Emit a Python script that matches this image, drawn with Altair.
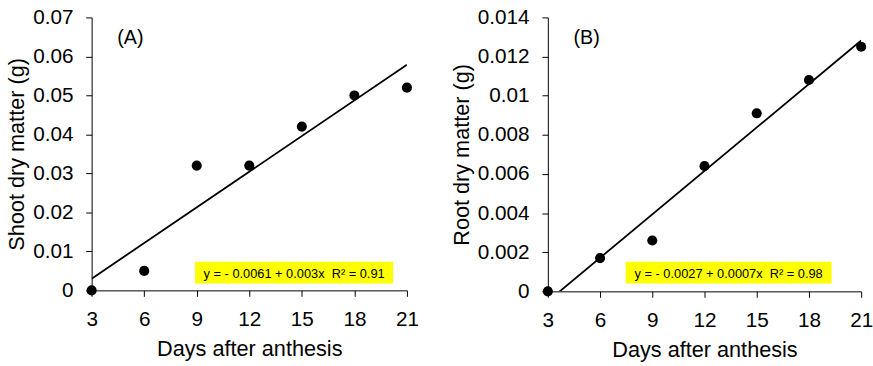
import altair as alt
import pandas as pd

days = [3, 6, 9, 12, 15, 18, 21]
shoot_dm = [0.0, 0.005, 0.032, 0.032, 0.042, 0.050, 0.052]
root_dm = [0.0, 0.0017, 0.0026, 0.0064, 0.0091, 0.0108, 0.0125]

x_ticks = [3, 6, 9, 12, 15, 18, 21]
shoot_ticks = [0, 0.01, 0.02, 0.03, 0.04, 0.05, 0.06, 0.07]
root_ticks = [0, 0.002, 0.004, 0.006, 0.008, 0.01, 0.012, 0.014]

eq_a = "y = - 0.0061 + 0.003x\u00a0\u00a0R² = 0.91"
eq_b = "y = - 0.0027 + 0.0007x\u00a0\u00a0R² = 0.98"
label_a = "(A)"
label_b = "(B)"
x_title = "Days after anthesis"
y_title_a = "Shoot dry matter (g)"
y_title_b = "Root dry matter (g)"

FONT = "Liberation Sans"


def panel(values, yticks, ymax, fmt, ytitle, eq, label, w, h, box):
    df = pd.DataFrame({"day": days, "value": values})
    base = alt.Chart(df)
    xenc = alt.X("day:Q", scale=alt.Scale(domain=[3, 21], nice=False, zero=False),
                 axis=alt.Axis(values=x_ticks, title=x_title, format="d"))
    yenc = alt.Y("value:Q", scale=alt.Scale(domain=[0, ymax], nice=False),
                 axis=alt.Axis(values=yticks, title=ytitle, format=fmt))
    pts = base.mark_circle(size=105, color="black", opacity=1).encode(x=xenc, y=yenc)
    line = base.transform_regression("day", "value", extent=[3, 21]).mark_line(
        color="black", strokeWidth=1.8, clip=True).encode(x=xenc, y=yenc)
    bx0, bx1, by0, by1 = box
    rect = alt.Chart(pd.DataFrame({"t": [eq]})).mark_rect(color="#ffff00").encode(
        x=alt.value(bx0), x2=alt.value(bx1), y=alt.value(by0), y2=alt.value(by1))
    txt = alt.Chart(pd.DataFrame({"t": [eq]})).mark_text(
        font=FONT, fontSize=13, color="black", align="center", baseline="middle").encode(
        x=alt.value((bx0 + bx1) / 2), y=alt.value((by0 + by1) / 2 + 1), text="t:N")
    lab = alt.Chart(pd.DataFrame({"t": [label]})).mark_text(
        font=FONT, fontSize=20, color="black", align="left", baseline="middle").encode(
        x=alt.value(26), y=alt.value(21), text="t:N")
    return alt.layer(pts, line, rect, txt, lab).properties(width=w, height=h)


a = panel(shoot_dm, shoot_ticks, 0.07, ".2~f", y_title_a, eq_a, label_a, 320, 277,
          (105, 306, 248, 270))
b = panel(root_dm, root_ticks, 0.014, ".3~f", y_title_b, eq_b, label_b, 318, 278,
          (79, 288, 248, 270))

chart = alt.hconcat(a, b, spacing=32).properties(
    padding={"left": 6, "top": 4, "right": 0, "bottom": 0}
).configure_view(stroke=None).configure_axis(
    grid=False, domainColor="black", tickColor="black", domainWidth=1, tickWidth=1,
    tickSize=6, labelColor="black", titleColor="black", labelFont=FONT, titleFont=FONT,
    labelFontSize=21, titleFontSize=22, titleFontWeight="normal", labelFlush=False,
).configure_axisX(labelPadding=13, titlePadding=9).configure_axisY(titlePadding=4, labelPadding=13)

chart.save("out.html", embed_options={"renderer": "svg", "actions": False})
